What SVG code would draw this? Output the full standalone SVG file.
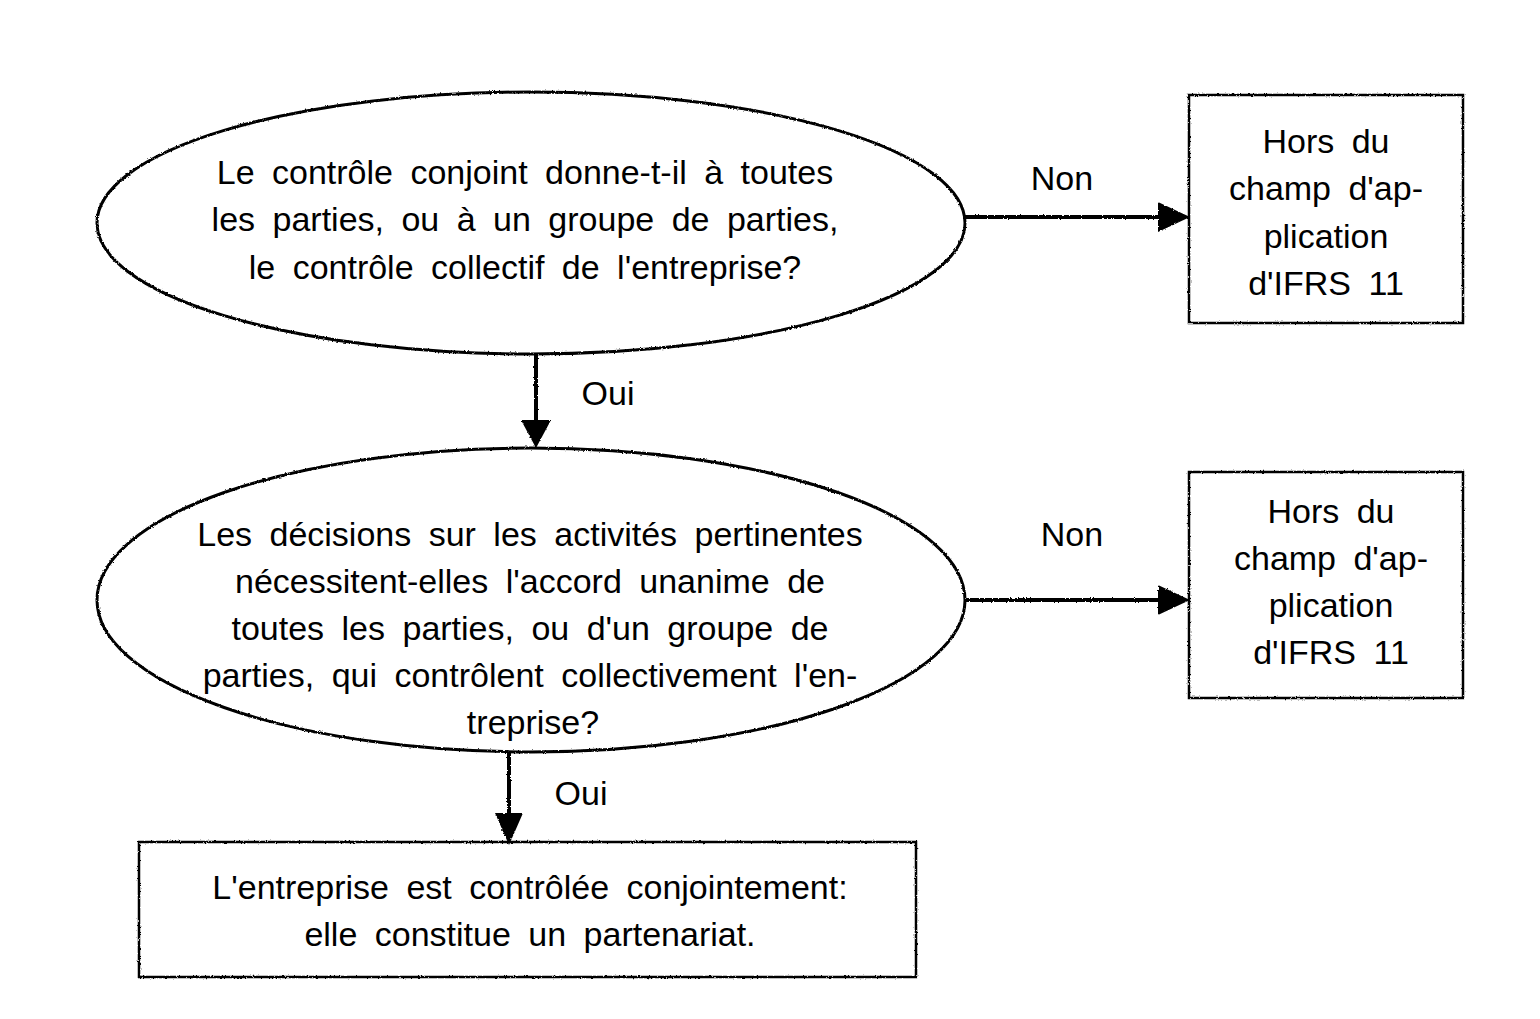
<svg xmlns="http://www.w3.org/2000/svg" width="1540" height="1019" viewBox="0 0 1540 1019">
<defs>
<filter id="rough" x="-5%" y="-5%" width="110%" height="110%">
<feTurbulence type="fractalNoise" baseFrequency="0.6" numOctaves="2" seed="3" result="n"/>
<feDisplacementMap in="SourceGraphic" in2="n" scale="2.5" xChannelSelector="R" yChannelSelector="G"/>
</filter>
</defs>
<style>
.t{font-family:"Liberation Sans",Arial,sans-serif;font-size:34px;word-spacing:8px;fill:#000;text-anchor:middle}
.shape{fill:none;stroke:#000;filter:url(#rough)}
.ell{stroke-width:3}
.box{stroke-width:2.5}
.con{stroke:#000;stroke-width:4;fill:none}
.head{fill:#000}
</style>
<rect width="1540" height="1019" fill="#fff"/>
<g id="q1">
<ellipse class="shape ell" cx="531" cy="223" rx="434" ry="131"/>
<text class="t" x="525" y="184">Le contrôle conjoint donne-t-il à toutes</text>
<text class="t" x="525" y="231">les parties, ou à un groupe de parties,</text>
<text class="t" x="525" y="279">le contrôle collectif de l'entreprise?</text>
</g>
<g id="out1">
<rect class="shape box" x="1189" y="95" width="274" height="228"/>
<text class="t" x="1326" y="153">Hors du</text>
<text class="t" x="1326" y="200">champ d'ap-</text>
<text class="t" x="1326" y="248">plication</text>
<text class="t" x="1326" y="295">d'IFRS 11</text>
</g>
<g id="q2">
<ellipse class="shape ell" cx="531" cy="600" rx="434" ry="152"/>
<text class="t" x="530" y="546">Les décisions sur les activités pertinentes</text>
<text class="t" x="530" y="593">nécessitent-elles l'accord unanime de</text>
<text class="t" x="530" y="640">toutes les parties, ou d'un groupe de</text>
<text class="t" x="530" y="687">parties, qui contrôlent collectivement l'en-</text>
<text class="t" x="533" y="734">treprise?</text>
</g>
<g id="out2">
<rect class="shape box" x="1189" y="472" width="274" height="226"/>
<text class="t" x="1331" y="523">Hors du</text>
<text class="t" x="1331" y="570">champ d'ap-</text>
<text class="t" x="1331" y="617">plication</text>
<text class="t" x="1331" y="664">d'IFRS 11</text>
</g>
<g id="result">
<rect class="shape box" x="139" y="842" width="777" height="135"/>
<text class="t" x="530" y="899">L'entreprise est contrôlée conjointement:</text>
<text class="t" x="530" y="946">elle constitue un partenariat.</text>
</g>
<g id="connectors">
<g filter="url(#rough)">
<line class="con" x1="965" y1="217" x2="1160" y2="217"/>
<path class="head" d="M1158,202 L1190,217 L1158,232 Z"/>
<line class="con" x1="536" y1="354" x2="536" y2="422"/>
<path class="head" d="M521,420 L536,448 L551,420 Z"/>
<line class="con" x1="965" y1="600" x2="1160" y2="600"/>
<path class="head" d="M1158,585 L1190,600 L1158,615 Z"/>
<line class="con" x1="509" y1="752" x2="509" y2="815"/>
<path class="head" d="M495,813 L509,845 L523,813 Z"/>
</g>
<text class="t" x="1062" y="190">Non</text>
<text class="t" x="608" y="405">Oui</text>
<text class="t" x="1072" y="546">Non</text>
<text class="t" x="581" y="805">Oui</text>
</g>
</svg>
